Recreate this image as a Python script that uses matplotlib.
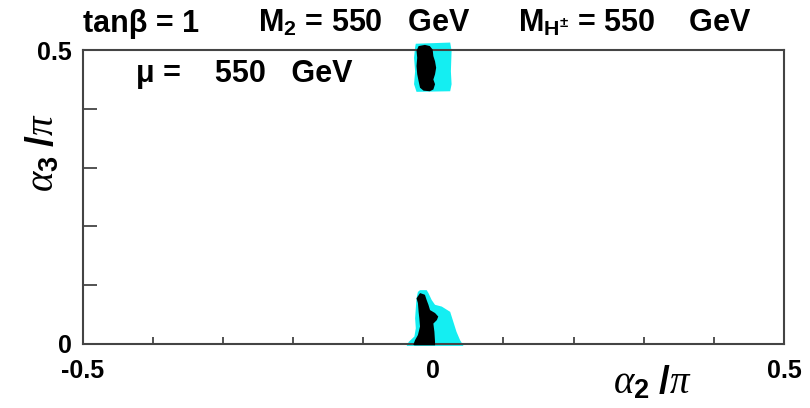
import matplotlib
matplotlib.use("Agg")
import matplotlib.pyplot as plt

# allowed region outlines (alpha2/pi, alpha3/pi)
# region near alpha3 = pi/2
upper_wide_x = [-0.025, 0.024, 0.026, 0.025, 0.026, 0.024, -0.024, -0.0275, -0.026, -0.0275, -0.026]
upper_wide_y = [0.511, 0.513, 0.499, 0.464, 0.442, 0.430, 0.429, 0.442, 0.464, 0.487, 0.505]
upper_core_x = [-0.021, -0.012, -0.005, -0.001, 0.0, 0.0024, 0.004, 0.0024, 0.0, 0.0024, 0.0,
                -0.005, -0.014, -0.019, -0.021, -0.023, -0.024, -0.023, -0.024]
upper_core_y = [0.507, 0.509, 0.507, 0.501, 0.490, 0.481, 0.470, 0.459, 0.450, 0.442, 0.433,
                0.430, 0.431, 0.436, 0.447, 0.459, 0.473, 0.487, 0.499]

# region near alpha3 = 0
lower_wide_x = [-0.019, -0.0095, -0.007, -0.0023, 0.0024, 0.012, 0.024, 0.0285, 0.033, 0.038, 0.043,
                -0.038, -0.035, -0.027, -0.025, -0.026, -0.025, -0.024, -0.022]
lower_wide_y = [0.091, 0.091, 0.086, 0.074, 0.066, 0.063, 0.054, 0.037, 0.020, 0.006, -0.004,
                -0.004, 0.003, 0.012, 0.026, 0.043, 0.060, 0.077, 0.088]
lower_core_x = [-0.019, -0.014, -0.012, -0.0095, -0.007, -0.0047, 0.0024, 0.007, 0.005, 0.0, 0.0015,
                0.0024, 0.0024, -0.027, -0.0285, -0.026, -0.022, -0.019, -0.020, -0.021, -0.022, -0.024]
lower_core_y = [0.086, 0.084, 0.083, 0.074, 0.066, 0.057, 0.052, 0.046, 0.040, 0.034, 0.020,
                0.003, -0.003, -0.003, -0.002, 0.006, 0.0145, 0.029, 0.043, 0.054, 0.069, 0.077]

x_ticks = [-0.4, -0.3, -0.2, -0.1, 0.0, 0.1, 0.2, 0.3, 0.4]
y_ticks = [0.1, 0.2, 0.3, 0.4]

plt.rcParams["font.family"] = ["Liberation Sans", "DejaVu Sans"]
# bold sans for sub/superscripts, serif italic for the greek axis symbols
plt.rcParams["mathtext.fontset"] = "custom"
plt.rcParams["mathtext.rm"] = "Liberation Sans:bold"
plt.rcParams["mathtext.bf"] = "Liberation Sans:bold"
plt.rcParams["mathtext.sf"] = "Liberation Sans:bold"
plt.rcParams["mathtext.it"] = "Liberation Serif:italic"

fig = plt.figure(figsize=(8.1, 4.08), dpi=100)
ax = fig.add_axes([0.102, 0.158, 0.866, 0.719])

cyan = "#14eef2"
ax.fill(upper_wide_x, upper_wide_y, color=cyan, lw=0, clip_on=False, zorder=2)
ax.fill(upper_core_x, upper_core_y, color="black", lw=0, clip_on=False, zorder=3)
ax.fill(lower_wide_x, lower_wide_y, color=cyan, lw=0, clip_on=False, zorder=2)
ax.fill(lower_core_x, lower_core_y, color="black", lw=0, clip_on=False, zorder=3)

ax.set_xlim(-0.5, 0.5)
ax.set_ylim(0, 0.5)
for s in ax.spines.values():
    s.set_linewidth(1.5)
    s.set_color("#444444")

# unlabelled ticks every 0.1, labels only at the ends and centre
ax.set_xticks([-0.5, 0.0, 0.5])
ax.set_xticklabels(["-0.5", "0", "0.5"], fontweight="bold")
ax.set_xticks(x_ticks, minor=True)
ax.set_yticks([0.0, 0.5])
ax.set_yticklabels(["0", "0.5"], fontweight="bold")
ax.set_yticks(y_ticks, minor=True)
ax.tick_params(axis="both", which="major", direction="in", length=0, labelsize=18, colors="black")
ax.tick_params(axis="x", which="major", pad=11)
ax.tick_params(axis="y", which="major", pad=8)
ax.tick_params(axis="x", which="minor", direction="in", length=5, width=1.3, color="#444444")
ax.tick_params(axis="y", which="minor", direction="in", length=10, width=1.3, color="#444444")

fig.text(0.805, 0.035, r"$\alpha_{\mathbf{2}}\ /\pi$", fontsize=28, ha="center", va="baseline")
fig.text(0.053, 0.627, r"$\alpha_{\mathbf{3}}\ /\pi$", fontsize=28, ha="center", va="center",
         rotation=90)

fs = 22
fig.text(0.103, 0.922, "tan\u03b2 = 1", fontsize=fs, fontweight="bold")
fig.text(0.318, 0.922, "M$_{\\mathbf{2}}$ = 550   GeV", fontsize=fs, fontweight="bold")
fig.text(0.640, 0.922, "M$_{\\mathbf{H^{\\pm}}}$ = 550    GeV", fontsize=fs, fontweight="bold")
fig.text(0.168, 0.800, "\u03bc =    550   GeV", fontsize=fs, fontweight="bold")

fig.savefig("out.png", dpi=100)
